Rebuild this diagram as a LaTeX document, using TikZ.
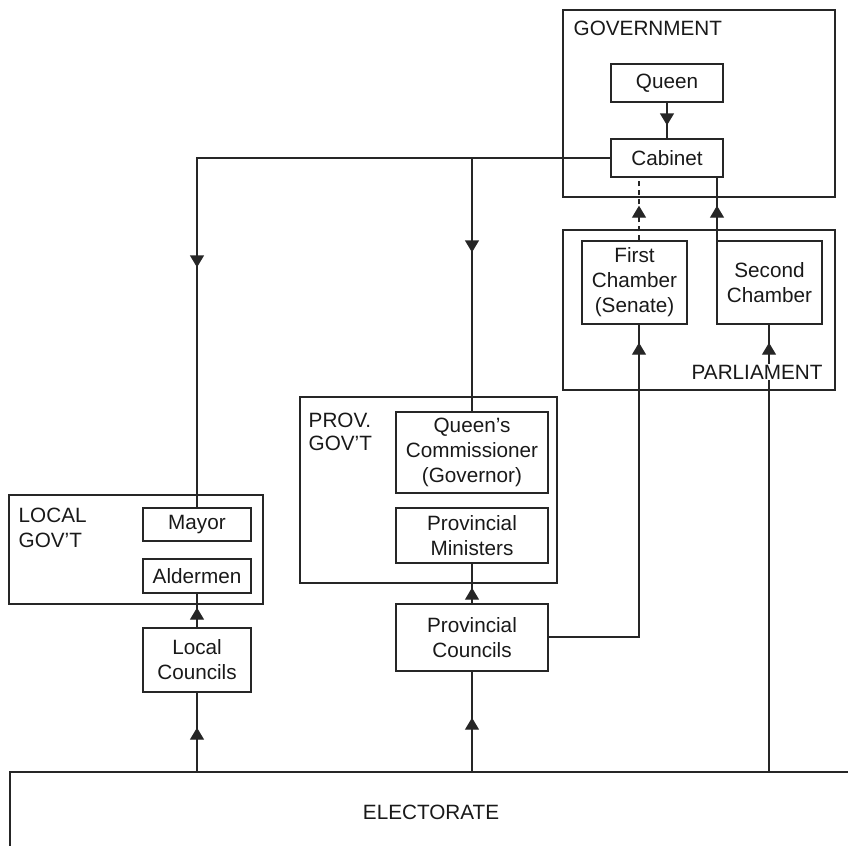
\documentclass[tikz,border=0pt]{standalone}
\usepackage{fontspec}
\setmainfont{Liberation Sans}
\usetikzlibrary{arrows.meta,decorations.markings,calc}
\begin{document}
\begin{tikzpicture}[x=1bp,y=-1bp,line width=1.4bp,
  every node/.style={font=\fontsize{20.7bp}{25bp}\selectfont,text=black!90},
  box/.style={draw=black!85,inner sep=0pt,align=center},
  lbl/.style={inner sep=0pt,anchor=base west},
  conn/.style={draw=black!85},
  midarr/.style={postaction={decorate},decoration={markings,mark=at position #1 with {\arrow{Triangle[width=14bp,length=12bp]}}}}]
\useasboundingbox (0,0) rectangle (848,846);
% Government
\node[box,minimum width=272bp,minimum height=187bp] (gov) at (699,103.5) {};
\node[lbl] (govlbl) at (573,35) {GOVERNMENT};
\node[box,minimum width=112bp,minimum height=38bp] (queen) at (667,83) {Queen};
\node[box,minimum width=112bp,minimum height=38bp] (cabinet) at (667,158) {Cabinet};
% Parliament
\node[box,minimum width=272bp,minimum height=160bp] (parl) at (699,310) {};
\node[box,minimum width=105bp,minimum height=83bp] (first) at (634.5,282.5) {First\\Chamber\\(Senate)};
\node[box,minimum width=105bp,minimum height=83bp] (second) at (769.5,282.5) {Second\\Chamber};
% Provincial government
\node[box,minimum width=257bp,minimum height=186bp] (prov) at (428.5,490) {};
\node[lbl] (provA) at (308,427) {PROV.};
\node[lbl] (provB) at (308,450) {GOV’T};
\node[box,minimum width=152bp,minimum height=81bp] (qc) at (472,452.5) {Queen’s\\Commissioner\\(Governor)};
\node[box,minimum width=152bp,minimum height=55bp] (pm) at (472,535.5) {Provincial\\Ministers};
\node[box,minimum width=152bp,minimum height=67bp] (pc) at (472,637.5) {Provincial\\Councils};
% Local government
\node[box,minimum width=254bp,minimum height=109bp] (local) at (136,549.5) {};
\node[lbl] (locA) at (18,522) {LOCAL};
\node[lbl] (locB) at (18,547) {GOV’T};
\node[box,minimum width=108bp,minimum height=33bp] (mayor) at (197,524.5) {Mayor};
\node[box,minimum width=108bp,minimum height=34bp] (ald) at (197,576) {Aldermen};
\node[box,minimum width=108bp,minimum height=64bp] (lc) at (197,660) {Local\\Councils};
% Electorate
\coordinate (etop) at (10,772);
\draw[conn] (10,846) -- (etop) -- (848,772);
\node[inner sep=0pt,anchor=base] (elect) at (431,819) {ELECTORATE};
% Connectors
\draw[conn,midarr=-13bp] (queen.south) -- (cabinet.north);
\draw[conn,midarr=-240bp] (cabinet.west) -| (mayor.north);
\coordinate (br) at (cabinet.west -| qc.north);
\draw[conn,midarr=-159bp] (br) -- (qc.north);
\draw[conn,dash pattern=on 5bp off 4bp,midarr=-28bp] (first.north -| 639,0) -- (cabinet.south -| 639,0);
\draw[conn,midarr=-28bp] (second.north -| 717,0) -- (cabinet.south -| 717,0);
\draw[conn,midarr=-18bp] (pc.east |- 0,637) -| (first.south -| 639,0);
\draw[conn,midarr=-18bp] (etop -| 769,0) -- (second.south -| 769,0);
\draw[conn,midarr=-46bp] (etop -| pc.south) -- (pc.south);
\draw[conn,midarr=-24bp] (pc.north) -- (pm.south);
\draw[conn,midarr=-35bp] (etop -| lc.south) -- (lc.south);
\draw[conn,midarr=-14bp] (lc.north) -- (ald.south);
\node[lbl,fill=white,inner sep=1bp] (parllbl) at (690,379) {PARLIAMENT};
\end{tikzpicture}
\end{document}
